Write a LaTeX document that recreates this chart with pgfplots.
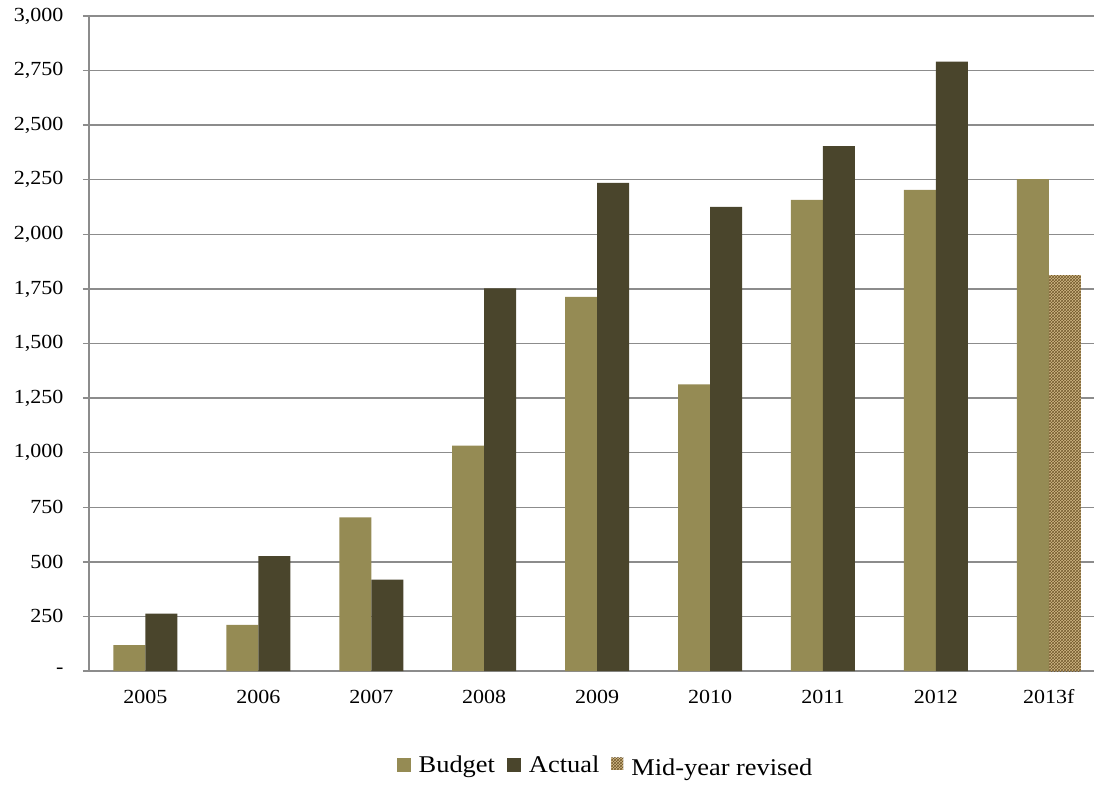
\documentclass[border=0pt]{standalone}
\usepackage{pgfplots}
\pgfplotsset{compat=1.18}
\usepackage{fontspec}
\setmainfont{Liberation Serif}[FakeStretch=1.1]
\usetikzlibrary{patterns}
\definecolor{budget}{RGB}{149,139,84}
\definecolor{actual}{RGB}{74,69,44}
\definecolor{midyear}{RGB}{210,185,135}
\definecolor{midpat}{RGB}{115,90,45}
\definecolor{gridgray}{RGB}{140,140,140}
\pgfplotsset{midlegend/.style={legend image code/.code={\fill[##1] (0pt,-5pt) rectangle (12pt,7pt);}}}
\begin{document}
\begin{tikzpicture}
\begin{axis}[
  at={(0,0)}, anchor=south west,
  scale only axis,
  width=1005pt, height=655pt,
  xmin=-0.5, xmax=8.4,
  ymin=0, ymax=3000,
  axis x line=bottom, axis y line=left,
  axis line style={-, gridgray, line width=1.4pt},
  tick align=outside,
  major tick length=6pt,
  minor tick length=7pt,
  xtick={0,...,8},
  xticklabels={2005,2006,2007,2008,2009,2010,2011,2012,2013f},
  x tick style={draw=none},
  minor xtick={-0.5,0.5,1.5,2.5,3.5,4.5,5.5,6.5,7.5},
  minor x tick style={gridgray, line width=1.4pt},
  ytick={0,250,...,3000},
  yticklabels={{-},{250},{500},{750},{1,000},{1,250},{1,500},{1,750},{2,000},{2,250},{2,500},{2,750},{3,000}},
  y tick style={gridgray, line width=1.4pt},
  ymajorgrids,
  major grid style={gridgray, line width=1.4pt},
  ticklabel style={font=\fontsize{20}{24}\selectfont, text=black},
  yticklabel style={xshift=-16pt},
  xticklabel style={anchor=north, text height=14pt, text depth=4pt, yshift=-9pt},
  ybar, bar width=32pt,
  legend style={at={(0.514,-0.1435)}, anchor=center, draw=none, fill=none,
    font=\fontsize{24}{27}\selectfont, legend columns=3,
    /tikz/every odd column/.append style={column sep=6pt},
    /tikz/every even column/.append style={column sep=10pt}},
  legend image code/.code={\fill[#1] (0pt,-7pt) rectangle (14pt,7pt);},
  clip=false,
]
\addplot[fill=budget, draw=none, bar shift=-16pt] coordinates {
  (0,118) (1,211) (2,704) (3,1032) (4,1713) (5,1313) (6,2158) (7,2204) (8,2253)};
\addlegendentry{Budget}
\addplot[fill=actual, draw=none, bar shift=16pt] coordinates {
  (0,263) (1,526) (2,419) (3,1753) (4,2236) (5,2126) (6,2404) (7,2791)};
\addlegendentry{Actual}
\addplot[fill=midyear, draw=none, bar shift=16pt, postaction={pattern=crosshatch, pattern color=midpat},
  midlegend] coordinates {
  (8,1813)};
\addlegendentry{\raisebox{-5pt}{Mid-year revised}}
\end{axis}
\pgfresetboundingbox
\useasboundingbox (-89pt,-113pt) rectangle (1005pt,671pt);
\end{tikzpicture}
\end{document}
